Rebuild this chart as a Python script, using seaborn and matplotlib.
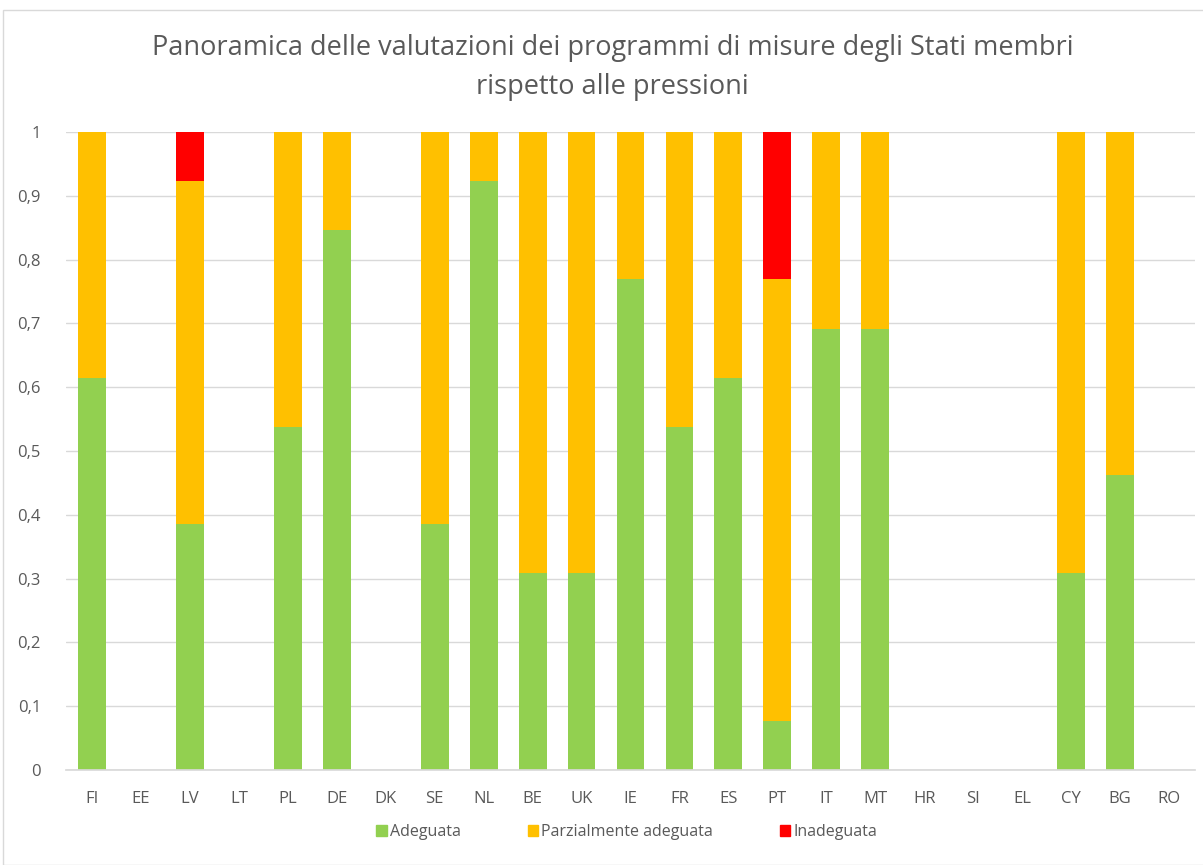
import pandas as pd
import seaborn as sns
import matplotlib.pyplot as plt
from matplotlib.patches import Rectangle, Patch

countries = ["FI", "EE", "LV", "LT", "PL", "DE", "DK", "SE", "NL", "BE", "UK", "IE",
             "FR", "ES", "PT", "IT", "MT", "HR", "SI", "EL", "CY", "BG", "RO"]
adeguata = [0.615, 0, 0.385, 0, 0.538, 0.846, 0, 0.385, 0.923, 0.308, 0.308, 0.769,
            0.538, 0.615, 0.077, 0.692, 0.692, 0, 0, 0, 0.308, 0.462, 0]
parziale = [0.385, 0, 0.538, 0, 0.462, 0.154, 0, 0.615, 0.077, 0.692, 0.692, 0.231,
            0.462, 0.385, 0.692, 0.308, 0.308, 0, 0, 0, 0.692, 0.538, 0]
inadeguata = [0, 0, 0.077, 0, 0, 0, 0, 0, 0, 0, 0, 0,
              0, 0, 0.231, 0, 0, 0, 0, 0, 0, 0, 0]

GREEN, ORANGE, RED = "#92D050", "#FFC000", "#FF0000"
TEXT = "#595959"

df = pd.DataFrame({"country": countries, "a": adeguata, "p": parziale, "i": inadeguata})
df["ap"] = df["a"] + df["p"]
df["total"] = df["ap"] + df["i"]

sns.set_theme(style="white")
plt.rcParams["font.family"] = ["Open Sans", "DejaVu Sans"]

fig = plt.figure(figsize=(12.03, 8.65), dpi=100)
ax = fig.add_axes([66 / 1203, 1 - 770 / 865, (1195 - 66) / 1203, (770 - 132) / 865])

# stacked bars drawn as overlapping cumulative layers
for col, color in [("total", RED), ("ap", ORANGE), ("a", GREEN)]:
    sns.barplot(data=df, x="country", y=col, color=color, width=0.57,
                saturation=1, ax=ax, linewidth=0)

ax.set_ylim(0, 1)
ax.set_xlim(-0.53, len(countries) - 0.47)
ax.set_yticks([i / 10 for i in range(11)])
ax.set_yticklabels(["0"] + [f"0,{i}" for i in range(1, 10)] + ["1"])
ax.yaxis.grid(True, color="#d9d9d9", linewidth=1)
ax.set_axisbelow(True)
ax.set_xlabel("")
ax.set_ylabel("")
for s in ["left", "right", "top"]:
    ax.spines[s].set_visible(False)
ax.spines["bottom"].set_color("#d9d9d9")
ax.tick_params(axis="both", colors=TEXT, labelsize=12, length=0)
ax.tick_params(axis="y", pad=18)
ax.tick_params(axis="x", pad=15)

fig.text(0.509, 1 - 48 / 865, "Panoramica delle valutazioni dei programmi di misure degli Stati membri",
         ha="center", va="center", fontsize=19.5, color=TEXT)
fig.text(0.509, 1 - 87 / 865, "rispetto alle pressioni",
         ha="center", va="center", fontsize=19.5, color=TEXT)

handles = [Patch(color=GREEN, label="Adeguata"),
           Patch(color=ORANGE, label="Parzialmente adeguata"),
           Patch(color=RED, label="Inadeguata")]
leg = fig.legend(handles=handles, loc="center", bbox_to_anchor=(0.521, 1 - 832 / 865),
                 ncol=3, frameon=False, fontsize=11.5, handlelength=0.65, handleheight=0.65,
                 handletextpad=0.2, columnspacing=4.2)
for t in leg.get_texts():
    t.set_color(TEXT)

fig.patches.append(Rectangle((3 / 1203, 0.0), 1.0, 1 - 10 / 865, transform=fig.transFigure,
                             fill=False, edgecolor="#d9d9d9", linewidth=1))

fig.savefig("out.png", dpi=100)
